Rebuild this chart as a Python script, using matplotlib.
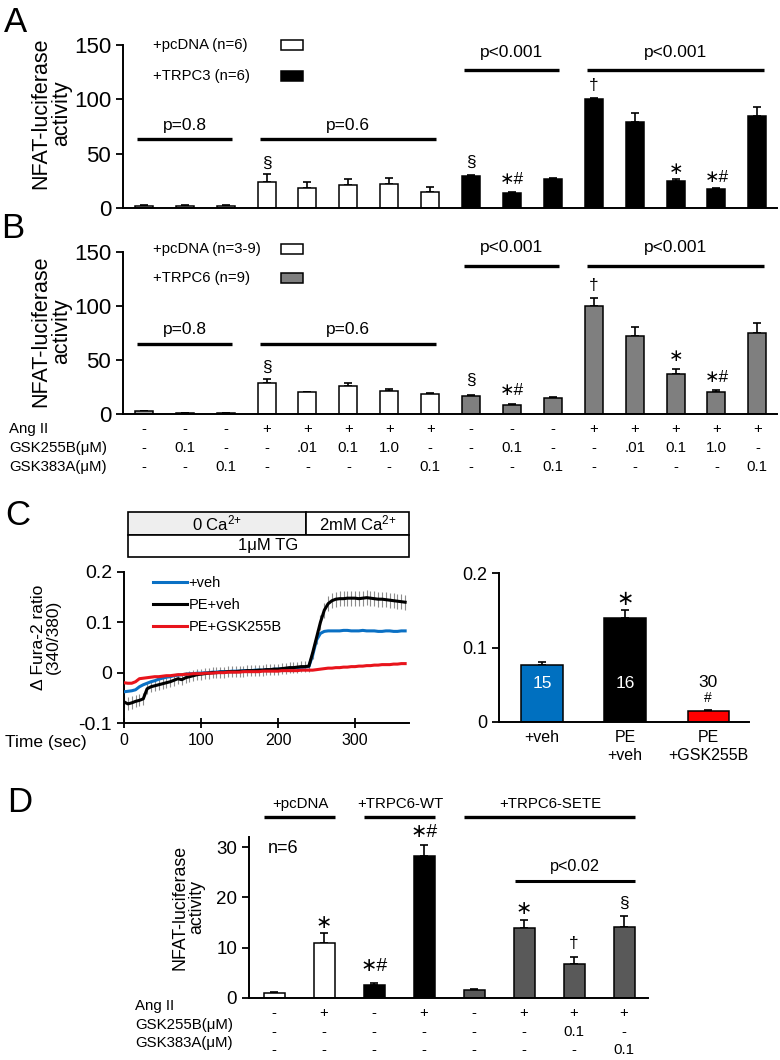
import numpy as np
import matplotlib
matplotlib.use("Agg")
import matplotlib.pyplot as plt
from matplotlib.patches import Rectangle
from matplotlib.transforms import blended_transform_factory

plt.rcParams["font.family"] = ["Liberation Sans", "DejaVu Sans"]
plt.rcParams["mathtext.fontset"] = "custom"
plt.rcParams["mathtext.rm"] = "Liberation Sans"
plt.rcParams["mathtext.it"] = "Liberation Sans:italic"
plt.rcParams["axes.linewidth"] = 1.4

W, H = 780, 1060
STAR = "\u2217"

# ---------------- panels A and B (NFAT luciferase, 16 conditions)
row_names = ["Ang II", "GSK255B(\u03bcM)", "GSK383A(\u03bcM)"]
ang_row = ["-", "-", "-", "+", "+", "+", "+", "+", "-", "-", "-", "+", "+", "+", "+", "+"]
gsk255_row = ["-", "0.1", "-", "-", ".01", "0.1", "1.0", "-", "-", "0.1", "-", "-", ".01", "0.1", "1.0", "-"]
gsk383_row = ["-", "-", "0.1", "-", "-", "-", "-", "0.1", "-", "-", "0.1", "-", "-", "-", "-", "0.1"]

a_vals = [2, 2, 2, 24, 18, 21, 22, 15, 29.5, 14, 27, 100, 79, 25, 17.5, 85]
a_errs = [0.8, 0.6, 0.7, 7, 6, 6, 6, 4, 1, 0.6, 1, 1.5, 8, 1.5, 1, 8]
a_colors = ["white"] * 8 + ["black"] * 8
a_marks = [(3, "\u00a7", 41), (8, "\u00a7", 42), (9, STAR + "#", 26), (11, "\u2020", 113),
           (13, STAR, 35), (14, STAR + "#", 28.5)]
a_pvals = [(0, 2, 63.5, 76, "p=0.8"), (3, 7, 63.5, 76, "p=0.6"),
           (8, 10, 127, 143.5, "p<0.001"), (11, 15, 127, 143.5, "p<0.001")]
a_legend = ["+pcDNA (n=6)", "+TRPC3 (n=6)"]

b_vals = [2.5, 1, 1, 28.5, 20.5, 26, 21, 18.5, 17, 8.3, 15, 100, 72.5, 36.7, 20.4, 75]
b_errs = [0.5, 0.3, 0.3, 3.5, 0.3, 3, 2, 1, 1, 0.7, 1, 7, 8.5, 5, 1.6, 9.5]
b_colors = ["#a6a6a6"] + ["white"] * 7 + ["#7f7f7f"] * 8
b_marks = [(3, "\u00a7", 43.5), (8, "\u00a7", 31.5), (9, STAR + "#", 22), (11, "\u2020", 119),
           (13, STAR, 53), (14, STAR + "#", 34)]
b_pvals = [(0, 2, 65, 78, "p=0.8"), (3, 7, 65, 78, "p=0.6"),
           (8, 10, 137, 154, "p<0.001"), (11, 15, 137, 154, "p<0.001")]
b_legend = ["+pcDNA (n=3-9)", "+TRPC6 (n=9)"]

# ---------------- panel C (Fura-2 traces, sampled every 5 s)
t_sec = np.arange(0, 370, 5)
veh = [-0.038, -0.037, -0.036, -0.034, -0.028, -0.024, -0.021, -0.018, -0.016, -0.013,
       -0.011, -0.009, -0.008, -0.006, -0.005, -0.004, -0.003, -0.002, -0.002, -0.001,
       -0.001, 0.000, 0.000, 0.001, 0.001, 0.002, 0.002, 0.002, 0.003, 0.003,
       0.003, 0.004, 0.004, 0.004, 0.005, 0.005, 0.005, 0.006, 0.006, 0.007,
       0.007, 0.008, 0.008, 0.009, 0.009, 0.010, 0.010, 0.011, 0.012, 0.035,
       0.065, 0.078, 0.082, 0.083, 0.083, 0.083, 0.083, 0.084, 0.084, 0.083,
       0.083, 0.083, 0.084, 0.083, 0.083, 0.083, 0.082, 0.082, 0.083, 0.083,
       0.082, 0.082, 0.083, 0.083]
pe_veh = [-0.058, -0.062, -0.060, -0.057, -0.055, -0.052, -0.032, -0.028, -0.026, -0.024,
          -0.022, -0.020, -0.018, -0.015, -0.012, -0.014, -0.010, -0.008, -0.006, -0.004,
          -0.003, -0.002, -0.001, 0.000, 0.000, 0.001, 0.001, 0.002, 0.002, 0.002,
          0.003, 0.003, 0.004, 0.004, 0.004, 0.005, 0.005, 0.006, 0.006, 0.007,
          0.007, 0.008, 0.009, 0.010, 0.010, 0.011, 0.012, 0.012, 0.013, 0.040,
          0.070, 0.100, 0.124, 0.137, 0.143, 0.146, 0.147, 0.147, 0.148, 0.148,
          0.148, 0.147, 0.148, 0.149, 0.148, 0.147, 0.146, 0.146, 0.145, 0.144,
          0.143, 0.142, 0.141, 0.140]
pe_sem = [0.012, 0.013, 0.013, 0.012, 0.012, 0.012, 0.011, 0.011, 0.011, 0.011,
          0.011, 0.011, 0.011, 0.011, 0.011, 0.011, 0.011, 0.011, 0.011, 0.011,
          0.011, 0.011, 0.011, 0.011, 0.011, 0.011, 0.011, 0.011, 0.011, 0.011,
          0.011, 0.011, 0.011, 0.011, 0.011, 0.011, 0.011, 0.011, 0.011, 0.011,
          0.011, 0.011, 0.011, 0.011, 0.011, 0.011, 0.011, 0.011, 0.011, 0.013,
          0.014, 0.015, 0.015, 0.015, 0.015, 0.015, 0.015, 0.015, 0.015, 0.015,
          0.015, 0.015, 0.015, 0.015, 0.015, 0.015, 0.015, 0.015, 0.015, 0.015,
          0.015, 0.015, 0.015, 0.015]
pe_gsk = [-0.020, -0.021, -0.021, -0.018, -0.012, -0.011, -0.010, -0.009, -0.008, -0.008,
          -0.007, -0.006, -0.006, -0.005, -0.004, -0.004, -0.003, -0.003, -0.002, -0.002,
          -0.002, -0.001, -0.001, -0.001, 0.000, 0.000, 0.000, 0.001, 0.001, 0.001,
          0.001, 0.002, 0.002, 0.002, 0.002, 0.002, 0.003, 0.003, 0.003, 0.003,
          0.003, 0.004, 0.004, 0.004, 0.004, 0.004, 0.005, 0.005, 0.005, 0.005,
          0.006, 0.007, 0.008, 0.009, 0.009, 0.010, 0.010, 0.011, 0.011, 0.012,
          0.012, 0.013, 0.013, 0.014, 0.014, 0.015, 0.015, 0.016, 0.016, 0.016,
          0.017, 0.017, 0.018, 0.018]
trace_names = ["+veh", "PE+veh", "PE+GSK255B"]
trace_colors = ["#0a70c4", "black", "#e8141c"]
ca_start, ca_switch, ca_end = 5, 236, 370

c_labels = ["+veh", "PE\n+veh", "PE\n+GSK255B"]
c_vals = [0.077, 0.139, 0.015]
c_errs = [0.003, 0.012, 0.001]
c_n = ["15", "16", "30"]
c_marks = ["", STAR, "#"]
c_colors = ["#0070c0", "black", "#ff0000"]

# ---------------- panel D
d_vals = [1.0, 10.9, 2.6, 28.2, 1.65, 13.9, 6.7, 14.2]
d_errs = [0.1, 2.0, 0.4, 2.3, 0.1, 1.6, 1.4, 2.1]
d_colors = ["white", "white", "black", "black", "#595959", "#595959", "#595959", "#595959"]
d_ang = ["-", "+", "-", "+", "-", "+", "+", "+"]
d_gsk255 = ["-", "-", "-", "-", "-", "-", "0.1", "-"]
d_gsk383 = ["-", "-", "-", "-", "-", "-", "-", "0.1"]
d_marks = [(1, STAR, 14.9), (2, STAR + "#", 6.2), (3, STAR + "#", 32.8), (5, STAR, 17.5),
           (6, "\u2020", 10.9), (7, "\u00a7", 18.8)]
d_groups = [(0, 1, "+pcDNA"), (2, 3, "+TRPC6-WT"), (4, 7, "+TRPC6-SETE")]


def fx(x):
    return x / W


def fy(y):
    return 1 - y / H


def px_axes(fig, left, top, right, bottom):
    return fig.add_axes([fx(left), fy(bottom), (right - left) / W, (bottom - top) / H])


def luc_panel(fig, ax, vals, errs, colors, marks, pvals, legend, leg_y):
    x = np.arange(len(vals))
    ax.bar(x, vals, width=0.44, color=colors, edgecolor="black", linewidth=1.1, zorder=2)
    ax.errorbar(x, vals, yerr=[np.zeros(len(errs)), errs], fmt="none", ecolor="black",
                elinewidth=1.2, capsize=3, capthick=1.2, zorder=1)
    for i, s, y in marks:
        ax.text(i, y, s, ha="center", va="center", fontsize=12.5)
    for i0, i1, y, ty, s in pvals:
        ax.plot([i0 - 0.17, i1 + 0.15], [y, y], color="black", lw=2.4, clip_on=False,
                solid_capstyle="butt")
        ax.text((i0 + i1) / 2, ty, s, ha="center", va="center", fontsize=12.5, clip_on=False)
    ax.set_xlim(-0.51, 15.48)
    ax.set_ylim(0, 150)
    ax.set_yticks([0, 50, 100, 150])
    ax.tick_params(axis="y", labelsize=16, length=5, width=1.3, direction="out")
    ax.set_xticks([])
    for sp in ["top", "right"]:
        ax.spines[sp].set_visible(False)
    # legend: text on the left, swatch on the right
    for label, col, y in zip(legend, ["white", colors[-1]], leg_y):
        fig.text(fx(153), fy(y), label, ha="left", va="center", fontsize=10.7)
        fig.add_artist(Rectangle((fx(281), fy(y + 5)), 22 / W, 10 / H,
                                 transform=fig.transFigure, facecolor=col,
                                 edgecolor="black", lw=1.1))


fig = plt.figure(figsize=(7.8, 10.6), dpi=100)

# panel letters
for s, x, y in [("A", 15, 22), ("B", 13, 228), ("C", 18, 515), ("D", 20, 802)]:
    fig.text(fx(x), fy(y), s, fontsize=25, ha="center", va="center")

# ---- A
axa = px_axes(fig, 123, 45, 777, 208)
luc_panel(fig, axa, a_vals, a_errs, a_colors, a_marks, a_pvals, a_legend, [45, 76])
fig.text(fx(51), fy(113), "NFAT-luciferase\nactivity", rotation=90, ha="center",
         va="center", fontsize=15.5, multialignment="center", linespacing=1.0)

# ---- B
axb = px_axes(fig, 123, 252, 777, 414)
luc_panel(fig, axb, b_vals, b_errs, b_colors, b_marks, b_pvals, b_legend, [249, 278])
fig.text(fx(51), fy(331), "NFAT-luciferase\nactivity", rotation=90, ha="center",
         va="center", fontsize=15.5, multialignment="center", linespacing=1.0)

tb = blended_transform_factory(axb.transData, fig.transFigure)
for name, row, y in zip(row_names, [ang_row, gsk255_row, gsk383_row], [429, 448, 467]):
    fig.text(fx(9), fy(y), name, ha="left", va="center", fontsize=10.8)
    for i, s in enumerate(row):
        axb.text(i, fy(y), s, transform=tb, ha="center", va="center", fontsize=10.8,
                 clip_on=False)

# ---- C left: traces
axc = px_axes(fig, 124, 572, 409, 723)
axc.errorbar(t_sec, pe_veh, yerr=pe_sem, fmt="none", ecolor="#8c8c8c", elinewidth=0.8,
             zorder=1)
for vals, name, col in zip([veh, pe_veh, pe_gsk], trace_names, trace_colors):
    axc.plot(t_sec, vals, color=col, lw=2.2, label=name, zorder=3)
axc.set_xlim(0, 370)
axc.set_ylim(-0.1, 0.2)
axc.set_xticks([0, 100, 200, 300])
axc.set_yticks([-0.1, 0, 0.1, 0.2])
axc.set_yticklabels(["-0.1", "0", "0.1", "0.2"])
axc.tick_params(axis="y", labelsize=14, length=5, width=1.3, direction="out")
axc.tick_params(axis="x", labelsize=11.5, length=7, width=1.3, direction="inout", pad=4)
for sp in ["top", "right"]:
    axc.spines[sp].set_visible(False)
axc.legend(frameon=False, loc="upper left", bbox_to_anchor=(fx(153), fy(576)),
           bbox_transform=fig.transFigure, fontsize=10.5, handlelength=2.3,
           handletextpad=0.15, labelspacing=0.55, borderpad=0, borderaxespad=0)
fig.text(fx(5), fy(742), "Time (sec)", ha="left", va="center", fontsize=12.5)
fig.text(fx(46), fy(637), "\u0394 Fura-2 ratio\n(340/380)", rotation=90, ha="center",
         va="center", fontsize=12.5, multialignment="center", linespacing=1.05)

# protocol header above the traces
y_bot, y_mid, y_top = 0.23, 0.274, 0.32
axc.add_patch(Rectangle((ca_start, y_mid), ca_switch - ca_start, y_top - y_mid,
                        facecolor="#eeeeee", edgecolor="black", lw=1.2, clip_on=False))
axc.add_patch(Rectangle((ca_switch, y_mid), ca_end - ca_switch, y_top - y_mid,
                        facecolor="white", edgecolor="black", lw=1.2, clip_on=False))
axc.add_patch(Rectangle((ca_start, y_bot), ca_end - ca_start, y_mid - y_bot,
                        facecolor="white", edgecolor="black", lw=1.2, clip_on=False))
axc.text((ca_start + ca_switch) / 2, (y_mid + y_top) / 2, "0 Ca$^{2{+}}$", ha="center",
         va="center", fontsize=12, clip_on=False)
axc.text((ca_switch + ca_end) / 2, (y_mid + y_top) / 2, "2mM Ca$^{2{+}}$", ha="center",
         va="center", fontsize=12, clip_on=False)
axc.text((ca_start + ca_end) / 2, (y_bot + y_mid) / 2, "1\u03bcM TG", ha="center",
         va="center", fontsize=12, clip_on=False)

# ---- C right: bar summary
axr = px_axes(fig, 499, 573, 749, 722)
xr = np.arange(len(c_vals))
axr.bar(xr, c_vals, width=0.5, color=c_colors, edgecolor="black", linewidth=1.1, zorder=2)
axr.errorbar(xr, c_vals, yerr=[np.zeros(3), c_errs], fmt="none", ecolor="black",
             elinewidth=1.2, capsize=3, capthick=1.2, zorder=1)
for i in range(3):
    if i < 2:
        axr.text(i, 0.052, c_n[i], ha="center", va="center", fontsize=12.5, color="white")
    else:
        axr.text(i, 0.053, c_n[i], ha="center", va="center", fontsize=12.5)
for i, s in enumerate(c_marks):
    if s == STAR:
        axr.text(i, c_vals[i] + c_errs[i] + 0.013, s, ha="center", va="center", fontsize=15)
    elif s:
        axr.text(i, 0.032, s, ha="center", va="center", fontsize=10)
axr.set_xlim(-0.52, 2.49)
axr.set_ylim(0, 0.2)
axr.set_yticks([0, 0.1, 0.2])
axr.set_yticklabels(["0", "0.1", "0.2"])
axr.set_xticks(xr)
axr.set_xticklabels(c_labels, fontsize=11.5, linespacing=1.25)
axr.tick_params(axis="x", length=0, pad=6)
axr.tick_params(axis="y", labelsize=13, length=5, width=1.3, direction="out")
for sp in ["top", "right"]:
    axr.spines[sp].set_visible(False)

# ---- D
axd = px_axes(fig, 249, 837, 648, 998)
xd = np.arange(len(d_vals))
axd.bar(xd, d_vals, width=0.42, color=d_colors, edgecolor="black", linewidth=1.1, zorder=2)
axd.errorbar(xd, d_vals, yerr=[np.zeros(len(d_errs)), d_errs], fmt="none", ecolor="black",
             elinewidth=1.2, capsize=3, capthick=1.2, zorder=1)
for i, s, y in d_marks:
    axd.text(i, y, s, ha="center", va="center", fontsize=14 if STAR in s else 12.5)
for i0, i1, s in d_groups:
    axd.plot([i0 - 0.2, i1 + 0.22], [35.9, 35.9], color="black", lw=2.4, clip_on=False,
             solid_capstyle="butt")
    axd.text((i0 + i1) / 2 + 0.02, 38.5, s, ha="center", va="center", fontsize=10.8,
             clip_on=False)
axd.plot([4.82, 7.22], [23.2, 23.2], color="black", lw=2.2, solid_capstyle="butt")
axd.text(6.02, 26.2, "p<0.02", ha="center", va="center", fontsize=11.7)
axd.text(-0.12, 29.8, "n=6", ha="left", va="center", fontsize=13)
axd.set_xlim(-0.5, 7.48)
axd.set_ylim(0, 32)
axd.set_yticks([0, 10, 20, 30])
axd.set_xticks([])
axd.tick_params(axis="y", labelsize=13.5, length=5, width=1.3, direction="out")
for sp in ["top", "right"]:
    axd.spines[sp].set_visible(False)
fig.text(fx(188), fy(907), "NFAT-luciferase\nactivity", rotation=90, ha="center",
         va="center", fontsize=12.8, multialignment="center", linespacing=1.0)

td = blended_transform_factory(axd.transData, fig.transFigure)
for name, row, yl, yv in zip(row_names, [d_ang, d_gsk255, d_gsk383],
                             [1006, 1025, 1043], [1013, 1032, 1050]):
    fig.text(fx(135), fy(yl), name, ha="left", va="center", fontsize=10.8)
    for i, s in enumerate(row):
        axd.text(i, fy(yv), s, transform=td, ha="center", va="center", fontsize=10.8,
                 clip_on=False)

fig.savefig("out.png", dpi=100)
